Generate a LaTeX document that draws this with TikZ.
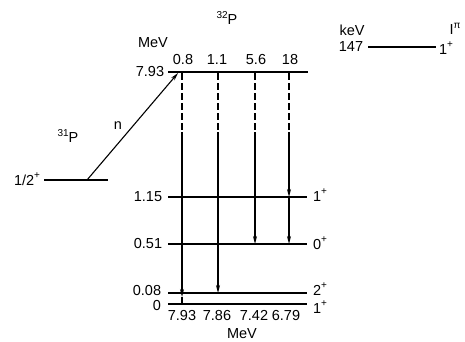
\documentclass[tikz,border=0pt]{standalone}
\usepackage{fontspec}
\setmainfont{Liberation Sans}
\usetikzlibrary{arrows.meta}
\newcommand{\sps}[1]{\raisebox{0.45em}{\fontsize{10}{10}\selectfont #1}}
\begin{document}
\begin{tikzpicture}[x=1pt,y=-1pt,
  lbl/.style={inner sep=0pt,font=\fontsize{14.5}{16}\selectfont},
  level/.style={line width=1.2pt},
  gam/.style={line width=1.1pt},
  gamdash/.style={line width=1.1pt,dash pattern=on 7pt off 3pt},
  tip/.style={-{Stealth[length=8pt,width=4pt]}}]
\useasboundingbox (0,0) rectangle (465,341);
% level coordinates
\coordinate (tL) at (168,72);   \coordinate (tR) at (308,72);
\coordinate (aL) at (168,197);  \coordinate (aR) at (307,197);
\coordinate (bL) at (168,244);  \coordinate (bR) at (307,244);
\coordinate (cL) at (168,293);  \coordinate (cR) at (307,293);
\coordinate (gL) at (168,304);  \coordinate (gR) at (307,304);
\coordinate (pL) at (44,180);   \coordinate (pR) at (108,180);
\coordinate (kL) at (368,47);   \coordinate (kR) at (436,47);
\draw[level] (tL) -- (tR);
\draw[level] (aL) -- (aR);
\draw[level] (bL) -- (bR);
\draw[level] (cL) -- (cR);
\draw[level] (gL) -- (gR);
\draw[level] (pL) -- (pR);
\draw[level] (kL) -- (kR);
% texts
\node[lbl] (p32) at (227,18) {\sps{32}P};
\node[lbl] (mev1) at (153,43) {MeV};
\node[lbl] (e793) at (150,72) {7.93};
\node[lbl] (i1) at (183,60) {0.8};
\node[lbl] (i2) at (217,60) {1.1};
\node[lbl] (i3) at (256,60) {5.6};
\node[lbl] (i4) at (290,60) {18};
\node[lbl] (kev) at (352,30) {keV};
\node[lbl] (k147) at (351,47) {147};
\node[lbl] (kj) at (446,48) {1\sps{+}};
\node[lbl] (ipi) at (455,29) {I\sps{π}};
\node[lbl] (p31) at (68,136) {\sps{31}P};
\node[lbl] (nn) at (118,126) {n};
\node[lbl] (half) at (27,179) {1/2\sps{+}};
\node[lbl] (e115) at (148,197) {1.15};
\node[lbl] (e051) at (148,244) {0.51};
\node[lbl] (e008) at (147,290) {0.08};
\node[lbl] (e0) at (157,305) {0};
\node[lbl] (j1) at (320,195) {1\sps{+}};
\node[lbl] (j2) at (320,243) {0\sps{+}};
\node[lbl] (j3) at (320,289) {2\sps{+}};
\node[lbl] (j4) at (320,307) {1\sps{+}};
\node[lbl] (g1) at (182,315) {7.93};
\node[lbl] (g2) at (217,315) {7.86};
\node[lbl] (g3) at (254,315) {7.42};
\node[lbl] (g4) at (286,315) {6.79};
\node[lbl] (mev2) at (242,334) {MeV};
% neutron capture arrow
\coordinate (ns) at (87,180);
\coordinate (ne) at (178,73);
\draw[gam,tip] (ns) -- (ne);
% gamma lines
\foreach \n/\x in {1/182,2/218,3/255,4/289}{
  \coordinate (s\n) at (\x,73);
  \coordinate (m\n) at (\x,132);
}
\foreach \n in {1,2,3,4}{\draw[gamdash] (s\n) -- (m\n);}
\coordinate (e1) at (182,297);
\coordinate (f1) at (182,304);
\coordinate (e2) at (218,293);
\coordinate (e3) at (255,244);
\coordinate (e4a) at (289,197);
\coordinate (e4b) at (289,244);
\draw[gam,tip] (m1) -- (e1);
\draw[gam] (e1) -- (f1);
\draw[gam,tip] (m2) -- (e2);
\draw[gam,tip] (m3) -- (e3);
\draw[gam,tip] (m4) -- (e4a);
\draw[gam,tip] (e4a) -- (e4b);
\end{tikzpicture}
\end{document}
